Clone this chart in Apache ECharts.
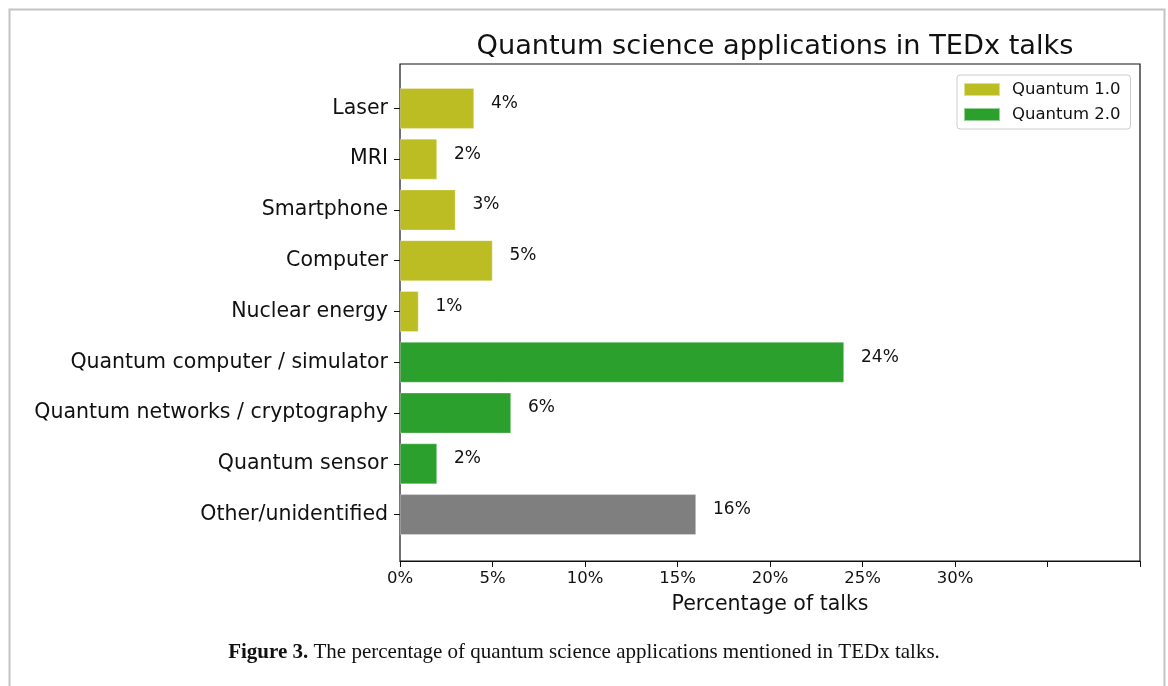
<!DOCTYPE html>
<html>
<head>
<meta charset="utf-8">
<script src="https://cdn.jsdelivr.net/npm/echarts@6/dist/echarts.min.js"></script>
<style>
  html, body { margin: 0; padding: 0; background: #fff; }
  #chart { width: 1168px; height: 686px; }
</style>
</head>
<body>
<div id="chart"></div>
<script>
// data
const categories = ['Laser', 'MRI', 'Smartphone', 'Computer', 'Nuclear energy',
  'Quantum computer / simulator', 'Quantum networks / cryptography', 'Quantum sensor', 'Other/unidentified'];
const quantum1 = [4, 2, 3, 5, 1, '-', '-', '-', '-'];
const quantum2 = ['-', '-', '-', '-', '-', 24, 6, 2, '-'];
const other = ['-', '-', '-', '-', '-', '-', '-', '-', 16];
const xTicks = [0, 5, 10, 15, 20, 25, 30];

const font = 'DejaVu Sans';
const ink = '#111';

let myChart = echarts.init(document.getElementById('chart'));

function barSeries(name, data, color){
  return {
    name: name,
    type: 'bar',
    stack: 'all',
    xAxisIndex: 1,
    yAxisIndex: 1,
    data: data,
    barCategoryGap: '20%',
    itemStyle: { color: color, borderColor: 'rgba(255,255,255,0.5)', borderWidth: 0.6 },
    label: {
      show: true,
      position: 'right',
      distance: 17,
      offset: [0, -5],
      formatter: '{c}%',
      fontFamily: font,
      fontSize: 17,
      color: ink
    }
  };
}

let option = {
  backgroundColor: '#fff',
  animation: false,
  title: {
    text: 'Quantum science applications in TEDx talks',
    left: 770,
    textAlign: 'center',
    top: 28,
    textStyle: { fontFamily: font, fontSize: 27.2, fontWeight: 'normal', color: ink }
  },
  legend: {
    data: ['Quantum 1.0', 'Quantum 2.0'],
    orient: 'vertical',
    left: 957,
    top: 75,
    padding: [5, 10, 5, 6],
    itemGap: 6,
    itemWidth: 36,
    itemHeight: 13,
    borderColor: '#ccc',
    borderWidth: 1,
    borderRadius: 3,
    icon: 'rect',
    textStyle: { fontFamily: font, fontSize: 16.5, lineHeight: 19, color: ink, padding: [0, 0, 0, 7] }
  },
  grid: [
    { left: 400, top: 64, width: 740, height: 497, show: true, borderColor: ink, borderWidth: 1.2, backgroundColor: 'transparent' },
    { left: 400, top: 83, width: 740, height: 457 }
  ],
  xAxis: [
    {
      gridIndex: 0,
      type: 'value',
      min: 0,
      max: 40,
      interval: 5,
      name: 'Percentage of talks',
      nameLocation: 'middle',
      nameGap: 33,
      nameTextStyle: { fontFamily: font, fontSize: 20.5, color: ink },
      axisLine: { show: true, lineStyle: { color: ink, width: 1.2 } },
      axisTick: { show: true, length: 6, lineStyle: { color: ink } },
      axisLabel: {
        margin: 9,
        fontFamily: font,
        fontSize: 16.5,
        color: ink,
        formatter: function(v){ return xTicks.indexOf(v) >= 0 ? v + '%' : ''; }
      },
      splitLine: { show: false }
    },
    {
      gridIndex: 1,
      type: 'value',
      min: 0,
      max: 40,
      show: false
    }
  ],
  yAxis: [
    { gridIndex: 0, type: 'value', show: false, min: 0, max: 1 },
    {
      gridIndex: 1,
      type: 'category',
      inverse: true,
      data: categories,
      axisLine: { show: false },
      axisTick: { show: true, length: 6, alignWithLabel: true, lineStyle: { color: ink } },
      axisLabel: { margin: 12, padding: [4, 0, 0, 0], fontFamily: font, fontSize: 20.5, color: ink }
    }
  ],
  series: [
    barSeries('Quantum 1.0', quantum1, '#bcbd22'),
    barSeries('Quantum 2.0', quantum2, '#2ca02c'),
    barSeries('Other', other, '#7f7f7f')
  ],
  graphic: [
    {
      type: 'rect',
      left: 7,
      top: 7,
      shape: { width: 1155, height: 700 },
      style: { fill: 'none', stroke: '#c4c4c4', lineWidth: 2 },
      silent: true
    },
    {
      type: 'text',
      left: 'center',
      top: 642,
      style: {
        text: '{b|Figure 3.} The percentage of quantum science applications mentioned in TEDx talks.',
        fontFamily: 'Liberation Serif',
        fontSize: 21,
        fill: '#111',
        rich: {
          b: { fontFamily: 'Liberation Serif', fontSize: 21, fontWeight: 'bold', fill: '#111' }
        }
      }
    }
  ]
};
myChart.setOption(option);
</script>
</body>
</html>
